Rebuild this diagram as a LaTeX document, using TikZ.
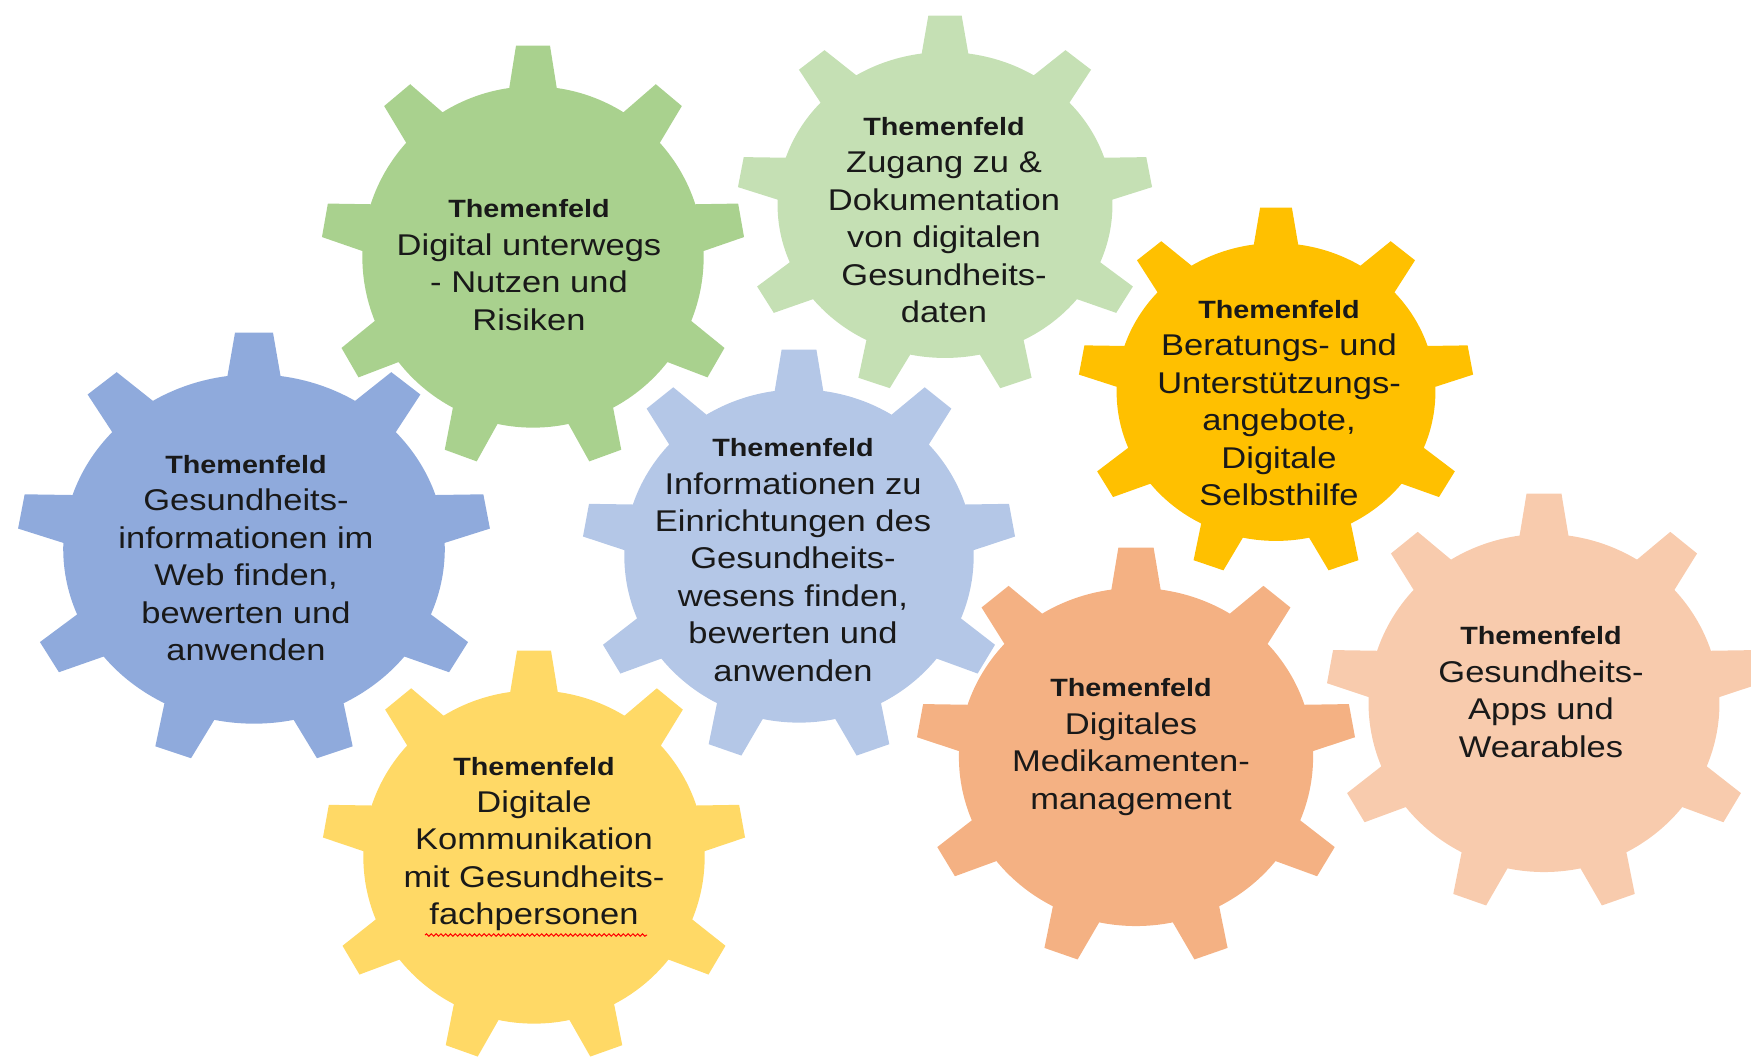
\documentclass[tikz,border=0pt]{standalone}
\usepackage{fontspec}
\setmainfont{Liberation Sans}
\usepackage{tikz}
\usetikzlibrary{
	calc,
	decorations.pathmorphing
	}
\tikzset{font={\fontsize{15pt}{18.7pt}\selectfont}}
\tikzstyle{texte-std}=[align=center,inner sep=0pt,text=black!90,xscale=1.15]
\definecolor{vertfonce}{HTML}{A9D18E}
\definecolor{vertclair}{HTML}{C5E0B4}
\definecolor{or}{HTML}{FFC000}
\definecolor{bleufonce}{HTML}{8FAADC}
\definecolor{bleuclair}{HTML}{B4C7E7}
\definecolor{jaune}{HTML}{FFD966}
\definecolor{saumon}{HTML}{F4B183}
\definecolor{peche}{HTML}{F8CBAD}
\newcommand{\theme}{{\fontsize{12.5pt}{15pt}\selectfont\bfseries Themenfeld}}
% #1 name, #2 #3 centre, #4 #5 radii, #6 colour
\newcommand{\gear}[6]{%
  \coordinate (#1) at (#2,#3);
  \fill[#6, shift={(#1)}, xscale=#4, yscale=#5] (2:0.805)
    \foreach \a in {10,50,...,330}{
      -- (\a-8:0.805) -- (\a-4.6:1) -- (\a+4.6:1) -- (\a+8:0.805)
      arc[start angle=\a+8, end angle=\a+32, radius=0.805]
    } -- cycle;
}

\begin{document}
\begin{tikzpicture}[x=0.5pt,y=0.5pt]
            \clip (0,0) rectangle (1751,1057);
            \gear{c1}{533}{800}{212}{212}{vertfonce}
            \gear{c2}{945}{852}{208}{190}{vertclair}
            \gear{c3}{1276}{665}{198}{185}{or}
            \gear{c4}{254}{508}{237}{217}{bleufonce}
            \gear{c5}{799}{501}{217}{207}{bleuclair}
            \gear{c6}{534}{200}{212}{207}{jaune}
            \gear{c7}{1136}{300}{220}{210}{saumon}
            \gear{c8}{1544}{354}{218}{210}{peche}
            %
            \node[texte-std] (t1) at (529,792) {\theme\\Digital unterwegs\\- Nutzen und\\Risiken};
            \node[texte-std] (t2) at (944,837) {\theme\\Zugang zu \&\\Dokumentation\\von digitalen\\Gesundheits-\\daten};
            \node[texte-std] (t3) at (1279,654) {\theme\\Beratungs- und\\Unterstützungs-\\angebote,\\Digitale\\Selbsthilfe};
            \node[texte-std] (t4) at (246,499) {\theme\\Gesundheits-\\informationen im\\Web finden,\\bewerten und\\anwenden};
            \node[texte-std] (t5) at (793,497) {\theme\\Informationen zu\\Einrichtungen des\\Gesundheits-\\wesens finden,\\bewerten und\\anwenden};
            \node[texte-std] (t6) at (534,213) {\theme\\Digitale\\Kommunikation\\mit Gesundheits-\\fachpersonen};
            \node[texte-std] (t7) at (1131,310) {\theme\\Digitales\\Medikamenten-\\management};
            \node[texte-std] (t8) at (1541,365) {\theme\\Gesundheits-\\Apps und\\Wearables};
            %
            \coordinate (s1) at (425,122);
            \coordinate (s2) at (647,122);
            \draw[red, line width=0.5pt, decorate, decoration={snake, amplitude=0.6pt, segment length=2.4pt}] (s1) -- (s2);
        \end{tikzpicture}
\end{document}
